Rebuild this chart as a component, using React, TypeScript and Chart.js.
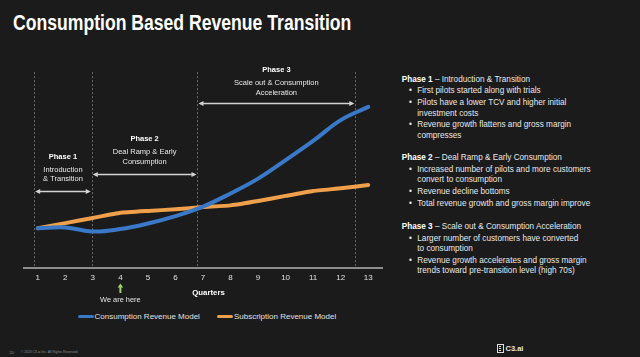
import React, { useEffect, useRef } from 'react';
import { Chart, registerables } from 'chart.js';

Chart.register(...registerables);

// ---------- data ----------
const quarters = ['1', '2', '3', '4', '5', '6', '7', '8', '9', '10', '11', '12', '13'];
const consumptionRevenue = [19.3, 19.7, 17.7, 18.9, 21.6, 25.2, 29.8, 36.2, 43.4, 52.4, 61.7, 71.8, 78.2];
const subscriptionRevenue = [19.3, 21.8, 24.3, 26.8, 27.7, 28.5, 29.6, 30.4, 32.5, 35.0, 37.4, 38.7, 40.3];
const seriesNames = ['Consumption Revenue Model', 'Subscription Revenue Model'];
const seriesColors = ['#3a78c8', '#f0a04b'];

// phase annotations (quarter positions of dividers, levels on the revenue axis)
const phaseBoundaries = [0.87, 2.96, 6.8, 12.53];
const dividerTop = 95.1;
const phaseTitles = ['Phase 1', 'Phase 2', 'Phase 3'];
const phaseSubtitles = [
  ['Introduction', '& Transition'],
  ['Deal Ramp & Early', 'Consumption'],
  ['Scale out & Consumption', 'Acceleration'],
];
const phaseArrowLevels = [37.5, 45.6, 79.9];
const phaseTitleLevels = [54, 62.5, 96.1];
const currentQuarter = 4;
const currentLabel = 'We are here';
const xAxisTitle = 'Quarters';
const xAxisTitleQuarter = 7.2;

const panel = [
  {
    title: 'Phase 1',
    subtitle: 'Introduction & Transition',
    bullets: [
      ['First pilots started along with trials'],
      ['Pilots have a lower TCV and higher initial', 'investment costs'],
      ['Revenue growth flattens and gross margin', 'compresses'],
    ],
  },
  {
    title: 'Phase 2',
    subtitle: 'Deal Ramp & Early Consumption',
    bullets: [
      ['Increased number of pilots and more customers', 'convert to consumption'],
      ['Revenue decline bottoms'],
      ['Total revenue growth and gross margin improve'],
    ],
  },
  {
    title: 'Phase 3',
    subtitle: 'Scale out & Consumption Acceleration',
    bullets: [
      ['Larger number of customers have converted', 'to consumption'],
      ['Revenue growth accelerates and gross margin', 'trends toward pre-transition level (high 70s)'],
    ],
  },
];
const panelTops = [74.75, 153.05, 222.05];

const FF = '"Liberation Sans", Arial, Helvetica, sans-serif';

const phasePlugin = {
  id: 'phases',
  beforeDatasetsDraw(chart: any) {
    const { ctx, scales, chartArea } = chart;
    const x = scales.x;
    const y = scales.y;
    ctx.save();
    ctx.strokeStyle = '#6a6a6a';
    ctx.lineWidth = 1;
    ctx.setLineDash([2, 2]);
    const top = y.getPixelForValue(dividerTop);
    phaseBoundaries.forEach((q) => {
      const px = Math.round(x.getPixelForValue(q - 1)) + 0.5;
      ctx.beginPath();
      ctx.moveTo(px, top);
      ctx.lineTo(px, chartArea.bottom);
      ctx.stroke();
    });
    ctx.restore();
  },
  afterDatasetsDraw(chart: any) {
    const { ctx, scales, chartArea } = chart;
    const x = scales.x;
    const y = scales.y;
    ctx.save();
    for (let i = 0; i < phaseTitles.length; i++) {
      const x0 = x.getPixelForValue(phaseBoundaries[i] - 1);
      const x1 = x.getPixelForValue(phaseBoundaries[i + 1] - 1);
      const ay = Math.round(y.getPixelForValue(phaseArrowLevels[i])) + 0.5;
      // arrow line
      ctx.strokeStyle = '#d2d2d2';
      ctx.fillStyle = '#d2d2d2';
      ctx.lineWidth = 1.3;
      ctx.beginPath();
      ctx.moveTo(x0 + 3, ay);
      ctx.lineTo(x1 - 3, ay);
      ctx.stroke();
      // heads
      ctx.beginPath();
      ctx.moveTo(x0 + 1, ay);
      ctx.lineTo(x0 + 6, ay - 2.6);
      ctx.lineTo(x0 + 6, ay + 2.6);
      ctx.closePath();
      ctx.fill();
      ctx.beginPath();
      ctx.moveTo(x1 - 1, ay);
      ctx.lineTo(x1 - 6, ay - 2.6);
      ctx.lineTo(x1 - 6, ay + 2.6);
      ctx.closePath();
      ctx.fill();
      // text
      const cx = (x0 + x1) / 2;
      const ty = y.getPixelForValue(phaseTitleLevels[i]);
      ctx.textAlign = 'center';
      ctx.textBaseline = 'middle';
      ctx.fillStyle = '#ffffff';
      ctx.font = `bold 7.5px ${FF}`;
      ctx.fillText(phaseTitles[i], cx, ty);
      ctx.fillStyle = '#e8e8e8';
      ctx.font = `7.5px ${FF}`;
      phaseSubtitles[i].forEach((line, j) => {
        ctx.fillText(line, cx, ty + 13 + j * 9.5);
      });
    }
    // "We are here"
    const hx = x.getPixelForValue(currentQuarter - 1);
    const b = chartArea.bottom;
    ctx.fillStyle = '#9ccf6e';
    ctx.beginPath();
    ctx.moveTo(hx, b + 15.5);
    ctx.lineTo(hx + 2.8, b + 19.5);
    ctx.lineTo(hx + 1, b + 19.5);
    ctx.lineTo(hx + 1, b + 25);
    ctx.lineTo(hx - 1, b + 25);
    ctx.lineTo(hx - 1, b + 19.5);
    ctx.lineTo(hx - 2.8, b + 19.5);
    ctx.closePath();
    ctx.fill();
    ctx.fillStyle = '#e8e8e8';
    ctx.font = `7.4px ${FF}`;
    ctx.textAlign = 'center';
    ctx.textBaseline = 'middle';
    ctx.fillText(currentLabel, hx, b + 31.5);
    // axis title
    ctx.fillStyle = '#ffffff';
    ctx.font = `bold 7.8px ${FF}`;
    ctx.fillText(xAxisTitle, x.getPixelForValue(xAxisTitleQuarter - 1), b + 24.5);
    ctx.restore();
  },
};

function RevenueChart() {
  const ref = useRef<HTMLCanvasElement | null>(null);
  useEffect(() => {
    if (!ref.current) return;
    const chart = new Chart(ref.current, {
      type: 'line',
      data: {
        labels: quarters,
        datasets: [
          {
            label: seriesNames[0],
            data: consumptionRevenue,
            borderColor: seriesColors[0],
            backgroundColor: seriesColors[0],
            borderWidth: 4,
            tension: 0.4,
            pointRadius: 0,
            borderCapStyle: 'round',
            borderJoinStyle: 'round',
          },
          {
            label: seriesNames[1],
            data: subscriptionRevenue,
            borderColor: seriesColors[1],
            backgroundColor: seriesColors[1],
            borderWidth: 4,
            tension: 0.1,
            pointRadius: 0,
            borderCapStyle: 'round',
            borderJoinStyle: 'round',
          },
        ],
      },
      options: {
        animation: false,
        responsive: true,
        maintainAspectRatio: false,
        layout: { padding: { left: 8, right: 8, top: 6, bottom: 0 } },
        plugins: { legend: { display: false }, tooltip: { enabled: false } },
        scales: {
          x: {
            type: 'category',
            offset: true,
            grid: { display: false, drawTicks: false },
            border: { display: true, color: '#8c8c8c', width: 2 },
            ticks: { color: '#e0e0e0', font: { family: FF, size: 8 }, padding: 5 },
            afterFit: (s: any) => {
              s.height = 40;
            },
          },
          y: { display: false, min: 0, max: 100 },
        },
      } as any,
      plugins: [phasePlugin],
    });
    return () => chart.destroy();
  }, []);
  return (
    <div style={{ position: 'absolute', left: 16, top: 56, width: 374, height: 252 }}>
      <canvas ref={ref} />
    </div>
  );
}

export default function App() {
  return (
    <div
      style={{
        position: 'fixed',
        left: 0,
        top: 0,
        width: 640,
        height: 357,
        background: '#1b1b1b',
        fontFamily: FF,
        color: '#e8e8e8',
        overflow: 'hidden',
      }}
    >
      <div
        style={{
          position: 'absolute',
          left: 12.7,
          top: 12,
          fontSize: 22,
          lineHeight: '22px',
          fontWeight: 'bold',
          color: '#ffffff',
          whiteSpace: 'nowrap',
          transform: 'scaleX(0.8)',
          transformOrigin: 'left top',
        }}
      >
        Consumption Based Revenue Transition
      </div>

      <RevenueChart />

      {/* legend */}
      <div style={{ position: 'absolute', left: 78, top: 311, height: 10, display: 'flex', alignItems: 'center', fontSize: 8, whiteSpace: 'nowrap' }}>
        {seriesNames.map((n, i) => (
          <div key={n} style={{ display: 'flex', alignItems: 'center', marginRight: i === 0 ? 17.5 : 0 }}>
            <span style={{ display: 'inline-block', width: 15.5, height: 3, borderRadius: 1.5, background: seriesColors[i], marginRight: 1 }} />
            <span style={{ color: '#e0e0e0' }}>{n}</span>
          </div>
        ))}
      </div>

      {/* right text panel */}
      {panel.map((sec, si) => (
        <div key={sec.title} style={{ position: 'absolute', left: 401.7, top: panelTops[si], fontSize: 8.2, lineHeight: '10.5px', whiteSpace: 'nowrap' }}>
          <div>
            <span style={{ fontWeight: 'bold', color: '#ffffff' }}>{sec.title}</span>
            <span> – {sec.subtitle}</span>
          </div>
          {sec.bullets.map((b, bi) => (
            <div key={bi} style={{ position: 'relative', paddingLeft: 15.6, marginTop: 1.2 }}>
              <span style={{ position: 'absolute', left: 7.2 }}>•</span>
              {b.map((l, li) => (
                <div key={li}>{l}</div>
              ))}
            </div>
          ))}
        </div>
      ))}

      {/* footer */}
      <div style={{ position: 'absolute', left: 9.5, top: 349.5, fontSize: 4, lineHeight: '5px', color: '#8a8a8a', whiteSpace: 'nowrap' }}>20</div>
      <div style={{ position: 'absolute', left: 20.7, top: 349.8, fontSize: 3.4, lineHeight: '5px', color: '#8a8a8a', whiteSpace: 'nowrap' }}>
        © 2023 C3.ai Inc. All Rights Reserved.
      </div>
      <div style={{ position: 'absolute', left: 496.5, top: 343.5, width: 7, height: 9, border: '1.2px solid #dcdcdc', boxSizing: 'border-box', display: 'flex', flexDirection: 'column', justifyContent: 'space-evenly', padding: '0 1.2px' }}>
        <div style={{ height: 1, background: '#dcdcdc' }} />
        <div style={{ height: 1, background: '#dcdcdc' }} />
        <div style={{ height: 1, background: '#dcdcdc' }} />
      </div>
      <div style={{ position: 'absolute', left: 505.5, top: 344, fontSize: 7.5, lineHeight: '9px', fontWeight: 'bold', color: '#e8e8e8', whiteSpace: 'nowrap' }}>
        C3.ai
      </div>
    </div>
  );
}
